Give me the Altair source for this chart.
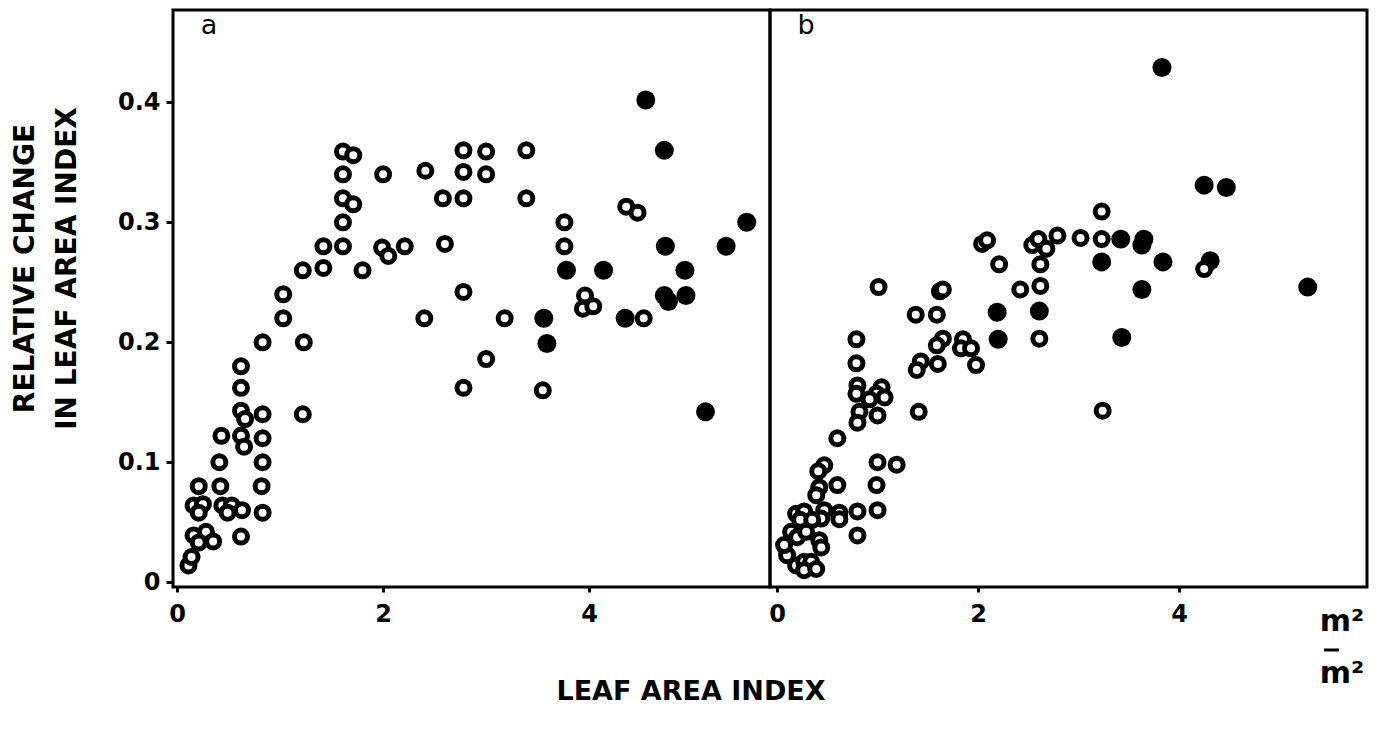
import altair as alt
import pandas as pd

# ---------------- data ----------------
# Panel a : open circles
a_open_x = [0.11, 0.14, 0.16, 0.28, 0.21, 0.35, 0.62, 0.16, 0.25, 0.21, 0.44, 0.53, 0.49, 0.63,
            0.83, 0.21, 0.42, 0.82, 0.41, 0.83, 0.43, 0.62, 0.65, 0.83, 0.62, 0.66, 0.83, 1.22,
            0.62, 0.62, 0.83, 1.23, 1.03, 1.03, 1.22, 1.42, 1.42, 1.61, 1.61, 1.61, 1.71, 1.61,
            1.61, 1.71, 1.80, 1.99, 2.05, 2.21, 2.00, 2.41, 2.40, 2.60, 2.58, 2.78, 2.78, 2.78,
            2.78, 2.78, 3.00, 3.00, 3.00, 3.18, 3.39, 3.39, 3.55, 3.76, 3.76, 3.96, 3.94, 4.04,
            4.36, 4.47, 4.53]
a_open_y = [0.014, 0.021, 0.039, 0.042, 0.033, 0.034, 0.038, 0.064, 0.065, 0.058, 0.064, 0.064,
            0.058, 0.060, 0.058, 0.080, 0.080, 0.080, 0.100, 0.100, 0.122, 0.122, 0.113, 0.120,
            0.143, 0.136, 0.140, 0.140, 0.162, 0.180, 0.200, 0.200, 0.220, 0.240, 0.260, 0.262,
            0.280, 0.280, 0.300, 0.320, 0.315, 0.340, 0.359, 0.356, 0.260, 0.279, 0.272, 0.280,
            0.340, 0.343, 0.220, 0.282, 0.320, 0.320, 0.342, 0.360, 0.242, 0.162, 0.359, 0.340,
            0.186, 0.220, 0.360, 0.320, 0.160, 0.300, 0.280, 0.239, 0.228, 0.230, 0.313, 0.308,
            0.220]
# Panel a : filled circles
a_fill_x = [4.55, 4.73, 5.53, 4.74, 5.33, 3.78, 4.14, 4.93, 4.73, 4.77, 4.94, 3.56, 4.35, 3.59, 5.13]
a_fill_y = [0.402, 0.360, 0.300, 0.280, 0.280, 0.260, 0.260, 0.260, 0.239, 0.234, 0.239, 0.220,
            0.220, 0.199, 0.142]

# Panel b : open circles
b_open_x = [1.38, 1.59, 2.61, 0.79, 0.79, 1.65, 1.59, 1.85, 1.83, 1.93, 1.98, 1.43, 1.39, 1.60,
            0.80, 0.79, 1.04, 0.99, 1.07, 0.92, 0.82, 0.80, 1.00, 1.41, 0.60, 1.00, 1.19, 0.47,
            0.41, 0.60, 0.42, 0.39, 0.99, 0.80, 1.00, 0.62, 0.62, 0.47, 0.44, 0.19, 0.27, 0.23,
            0.35, 0.14, 0.20, 0.29, 0.42, 0.44, 0.10, 0.07, 0.80, 0.19, 0.27, 0.34, 0.27, 0.39,
            1.01, 1.62, 1.65, 2.04, 2.09, 2.21, 2.54, 2.60, 2.68, 2.79, 2.62, 2.42, 2.62, 3.02,
            3.23, 3.23, 4.25, 3.24]
b_open_y = [0.223, 0.223, 0.203, 0.2025, 0.1825, 0.203, 0.1975, 0.2025, 0.195, 0.195, 0.181,
            0.184, 0.177, 0.182, 0.164, 0.157, 0.1625, 0.157, 0.154, 0.1525, 0.142, 0.133, 0.139,
            0.142, 0.120, 0.100, 0.098, 0.0975, 0.0925, 0.081, 0.079, 0.0725, 0.081, 0.059, 0.060,
            0.058, 0.0525, 0.060, 0.053, 0.057, 0.059, 0.052, 0.052, 0.042, 0.0375, 0.042, 0.035,
            0.029, 0.0225, 0.031, 0.039, 0.014, 0.017, 0.017, 0.010, 0.011, 0.246, 0.2425, 0.244,
            0.282, 0.285, 0.265, 0.281, 0.286, 0.278, 0.289, 0.265, 0.244, 0.247, 0.287, 0.286,
            0.309, 0.261, 0.143]
# Panel b : filled circles
b_fill_x = [3.83, 4.25, 4.47, 3.42, 3.65, 3.63, 3.23, 3.84, 4.31, 3.63, 5.28, 2.19, 2.61, 2.20, 3.43]
b_fill_y = [0.429, 0.331, 0.329, 0.286, 0.286, 0.281, 0.267, 0.267, 0.268, 0.244, 0.246, 0.225,
            0.226, 0.2025, 0.204]

x_ticks = [0, 2, 4]
y_ticks = [0, 0.1, 0.2, 0.3, 0.4]
y_title = ["RELATIVE   CHANGE", "IN   LEAF   AREA   INDEX"]
x_title = "LEAF   AREA   INDEX"
unit_label = "m²"

FONT = "DejaVu Sans"
H = 577
W = 597
Y_DOMAIN = [-0.004, 0.477]


def panel(ox, oy, fx, fy, x_domain, letter, width, show_y, extra=None):
    d_open = pd.DataFrame({"lai": ox, "rel": oy})
    d_fill = pd.DataFrame({"lai": fx, "rel": fy})
    xs = alt.Scale(domain=x_domain, nice=False, zero=False)
    ys = alt.Scale(domain=Y_DOMAIN, nice=False, zero=False)
    xax = alt.Axis(values=x_ticks, title=None, format="d", tickSize=5, labelPadding=10,
                   domain=False, grid=False)
    if show_y:
        yax = alt.Axis(values=y_ticks, title=y_title, tickSize=7, labelPadding=6, domain=False,
                       grid=False,
                       labelExpr="datum.value == 0 ? '0' : format(datum.value, '.1f')",
                       titleFontSize=28, titleFont=FONT, titleFontWeight="bold",
                       titleLineHeight=42, titlePadding=36, titleColor="black", titleY=258)
    else:
        yax = None
    filled = alt.Chart(d_fill).mark_circle(size=360, color="black", opacity=1).encode(
        x=alt.X("lai:Q", scale=xs, axis=xax),
        y=alt.Y("rel:Q", scale=ys, axis=yax),
    )
    opened = alt.Chart(d_open).mark_point(shape="circle", filled=True, fill="white",
                                          stroke="black", strokeWidth=5, size=169,
                                          opacity=1).encode(
        x=alt.X("lai:Q", scale=xs, axis=xax),
        y=alt.Y("rel:Q", scale=ys, axis=yax),
    )
    lab = alt.Chart(pd.DataFrame({"t": [letter]})).mark_text(
        font=FONT, fontSize=27, color="black", align="center", baseline="middle"
    ).encode(x=alt.value(36), y=alt.value(16), text="t:N")
    layers = [filled, opened, lab]
    if extra:
        layers += extra
    return alt.layer(*layers).properties(width=width, height=H)


title_txt = alt.Chart(pd.DataFrame({"t": [x_title]})).mark_text(
    font=FONT, fontSize=27, fontWeight="bold", color="black", align="center", baseline="middle"
).encode(x=alt.value(518), y=alt.value(682), text="t:N")

unit_top = alt.Chart(pd.DataFrame({"t": [unit_label]})).mark_text(
    font=FONT, fontSize=30, fontWeight="bold", color="black", align="center", baseline="middle"
).encode(x=alt.value(572), y=alt.value(612), text="t:N")
unit_bot = alt.Chart(pd.DataFrame({"t": [unit_label]})).mark_text(
    font=FONT, fontSize=30, fontWeight="bold", color="black", align="center", baseline="middle"
).encode(x=alt.value(572), y=alt.value(664), text="t:N")
unit_bar = alt.Chart(pd.DataFrame({"t": [unit_label]})).mark_rule(
    color="black", strokeWidth=3
).encode(x=alt.value(554), x2=alt.value(569), y=alt.value(640))

pa = panel(a_open_x, a_open_y, a_fill_x, a_fill_y, [-0.04, 5.756], "a", W, True, [title_txt])
pb = panel(b_open_x, b_open_y, b_fill_x, b_fill_y, [-0.07, 5.87], "b", W, False,
           [unit_top, unit_bar, unit_bot])

chart = alt.hconcat(pa, pb, spacing=0, bounds="flush").properties(
    padding={"left": 1, "top": 0, "right": 0, "bottom": 5}
).configure_view(
    stroke="black", strokeWidth=3
).configure_axis(
    labelFont=FONT, labelFontWeight="bold", labelFontSize=24, labelColor="black",
    tickColor="black", tickWidth=3
).configure_concat(spacing=0)

chart.save("out.html", embed_options={"renderer": "svg", "actions": False})
